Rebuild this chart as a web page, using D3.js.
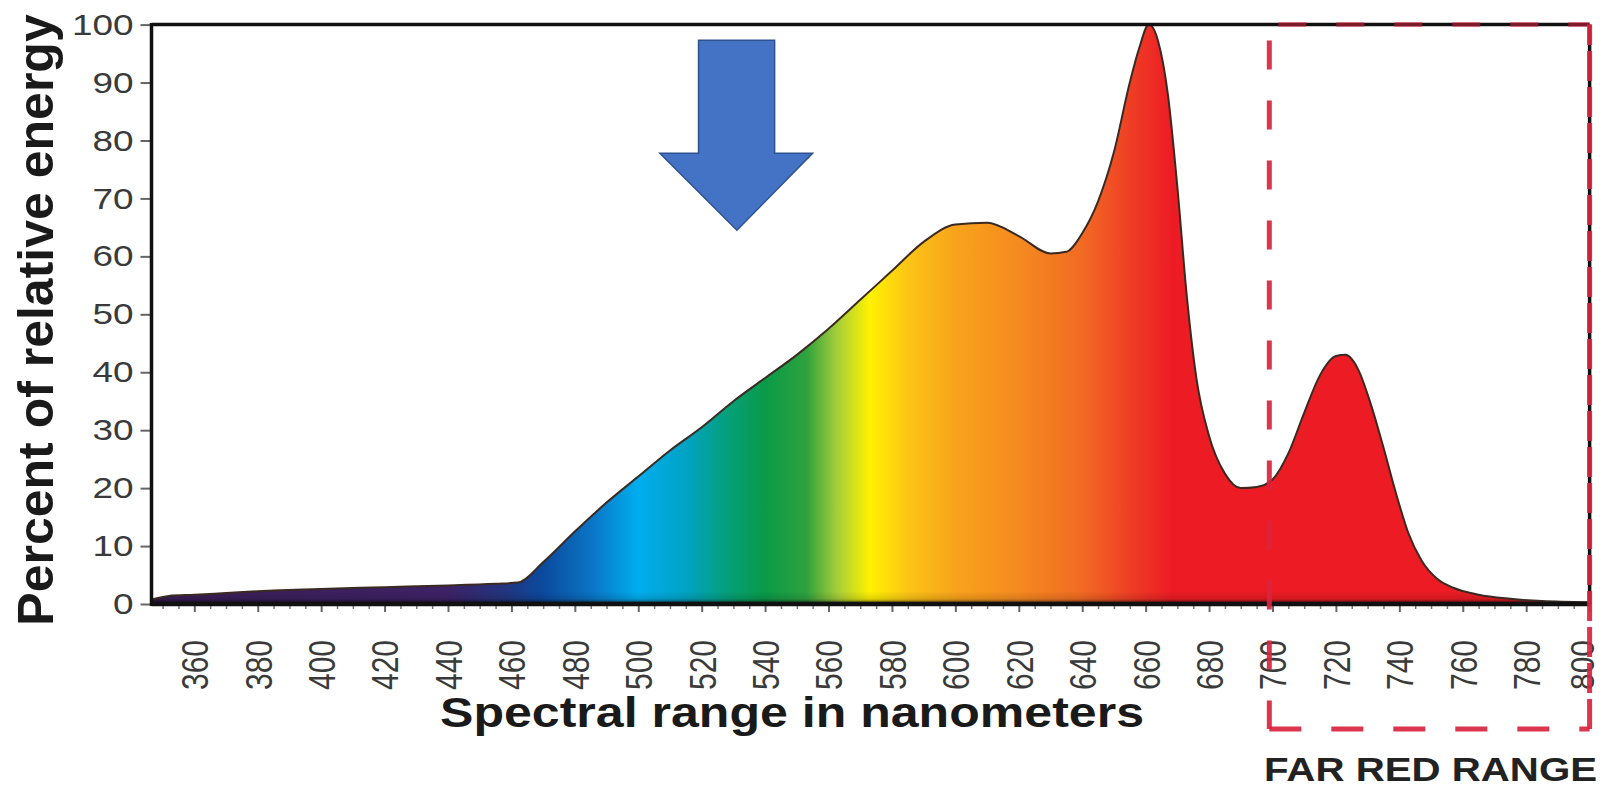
<!DOCTYPE html>
<html><head><meta charset="utf-8">
<script src="https://cdn.jsdelivr.net/npm/d3@7"></script>
<style>body{margin:0;background:#fff}svg{display:block}</style>
</head><body><svg id="c" width="1605" height="788"></svg>
<script>
// ---- data ----
const wavelengths = [346.5,352,360,370,380,400,420,440,455,462,470,480,490,500,510,520,530,540,550,560,570,580,590,600,610,620,630,635,640,645,650,655,658,661,664,667,670,673,676,680,685,690,695,700,705,710,715,720,723,727,731,735,739,743,747,752,757,765,775,785,800];
const energy      = [0.8,1.4,1.6,1.9,2.2,2.6,2.9,3.2,3.5,3.7,7.2,12.5,17.5,22,26.5,30.5,35,39,43,47.5,52.5,57.5,62.5,65.5,65.8,63.5,60.5,60.8,64,69.5,78,90,96,100,97,88,72,53,39,29,22.5,20,20.2,21.5,26,33,39.5,42.8,43,40.5,34.5,27,19,12,7.5,4.3,2.8,1.6,0.9,0.5,0.3];
const yTicks = [0,10,20,30,40,50,60,70,80,90,100];
const xTicks = [360,380,400,420,440,460,480,500,520,540,560,580,600,620,640,660,680,700,720,740,760,780,800];
const xMinorTicks = d3.range(350, 800, 5).filter(v => v % 20 !== 0);
const farRedRange = [699, 800];
const farRedLabel = "FAR RED RANGE";
const xTitle = "Spectral range in nanometers";
const yTitle = "Percent of relative energy";
// arrow annotation in data units
const arrowShaft = [519, 543], arrowHead = [506.8, 555], arrowTip = [531.1, 64.5], arrowTop = 97.3, arrowShoulder = 77.8;
// spectrum colours by wavelength
const spectrumStops = [
  [346.5,"#3a1d55"],[440,"#3d2266"],[458,"#22357f"],[470,"#0b4a9e"],[485,"#0a74c4"],[500,"#00aeef"],
  [515,"#00a3c4"],[528,"#05a07a"],[540,"#0a9a48"],[553,"#2ea23e"],[563,"#a8cf38"],[573,"#fff200"],
  [585,"#fcc515"],[600,"#f9a31b"],[620,"#f58a1f"],[640,"#f26a23"],[655,"#ef3e24"],[668,"#ed1c24"],[800,"#ed1c24"]
];

// ---- scales ----
const svg = d3.select("#c");
const x = d3.scaleLinear().domain([346.5, 800]).range([151.5, 1589.6]);
const y = d3.scaleLinear().domain([0, 100]).range([604, 24.6]);
const pts = wavelengths.map((w,i)=>({w, e: energy[i]}));

const defs = svg.append("defs");
const grad = defs.append("linearGradient").attr("id","spec").attr("gradientUnits","userSpaceOnUse")
  .attr("x1", x(346.5)).attr("x2", x(800)).attr("y1",0).attr("y2",0);
spectrumStops.forEach(([w,c]) => grad.append("stop").attr("offset", (w-346.5)/(800-346.5)).attr("stop-color", c));
const vgrad = defs.append("linearGradient").attr("id","shade").attr("x1",0).attr("x2",0).attr("y1",0).attr("y2",1);
vgrad.append("stop").attr("offset",0).attr("stop-color","#000").attr("stop-opacity",0);
vgrad.append("stop").attr("offset",0.6).attr("stop-color","#000").attr("stop-opacity",0.12);
vgrad.append("stop").attr("offset",1).attr("stop-color","#000").attr("stop-opacity",0.7);

const area = d3.area().x(d=>x(d.w)).y0(y(0)).y1(d=>y(d.e)).curve(d3.curveMonotoneX);
const line = d3.line().x(d=>x(d.w)).y(d=>y(d.e)).curve(d3.curveMonotoneX);
defs.append("clipPath").attr("id","areaClip").append("path").attr("d", area(pts));

svg.append("path").attr("d", area(pts)).attr("fill","url(#spec)");
svg.append("rect").attr("x", x(346.5)).attr("width", x(800)-x(346.5)).attr("y", y(2.2)).attr("height", y(0)-y(2.2))
  .attr("fill","url(#shade)").attr("clip-path","url(#areaClip)");
svg.append("path").attr("d", line(pts)).attr("fill","none").attr("stroke","#3a2a22").attr("stroke-width",2);

// ---- axes ----
const font = "'Liberation Sans', Arial, sans-serif";
const gy = svg.append("g").attr("transform",`translate(${x(346.5)},0)`)
  .call(d3.axisLeft(y).tickValues(yTicks).tickSize(11).tickPadding(7));
gy.select(".domain").remove();
gy.selectAll(".tick line").attr("stroke","#666").attr("stroke-width",2);
gy.selectAll(".tick text").attr("font-family",font).attr("font-size",30).attr("fill","#3a3a3a")
  .each(function(){ const w=this.getComputedTextLength(); d3.select(this).attr("textLength", w*1.23).attr("lengthAdjust","spacingAndGlyphs"); });

const gxm = svg.append("g").attr("transform",`translate(0,${y(0)})`)
  .call(d3.axisBottom(x).tickValues(xMinorTicks).tickSize(5).tickFormat(""));
gxm.select(".domain").remove();
gxm.selectAll(".tick line").attr("stroke","#777").attr("stroke-width",1.5);
const gx = svg.append("g").attr("transform",`translate(0,${y(0)})`)
  .call(d3.axisBottom(x).tickValues(xTicks).tickSize(8).tickPadding(0));
gx.select(".domain").remove();
gx.selectAll(".tick line").attr("stroke","#666").attr("stroke-width",2);
gx.selectAll(".tick text").attr("font-family",font).attr("font-size",30).attr("fill","#3a3a3a")
  .attr("text-anchor","end").attr("x",-36).attr("y",0).attr("dy","0.36em")
  .attr("transform", d => d === 800 ? "translate(-8,0) rotate(-90) scale(1,1.1)" : "rotate(-90) scale(1,1.24)");

// frame
const frame = svg.append("g").attr("stroke","#111").attr("stroke-width",3.5).attr("fill","none");
frame.append("line").attr("x1",x(346.5)).attr("x2",x(800)).attr("y1",y(0)).attr("y2",y(0)).attr("stroke-width",4.5);
frame.append("line").attr("x1",x(346.5)).attr("x2",x(346.5)).attr("y1",y(100)-1.5).attr("y2",y(0)+2);
frame.append("line").attr("x1",x(346.5)).attr("x2",x(800)).attr("y1",y(100)).attr("y2",y(100));
frame.append("line").attr("x1",x(800)).attr("x2",x(800)).attr("y1",y(100)).attr("y2",y(0));

// far red box
const boxBottom = 729;
const fr = svg.append("g").attr("stroke","#d9243f").attr("stroke-width",5).attr("fill","none").attr("stroke-opacity",0.92);
fr.append("line").attr("x1",x(farRedRange[0])).attr("x2",x(farRedRange[0])).attr("y1",y(100)+16).attr("y2",boxBottom).attr("stroke-dasharray","29 31");
fr.append("line").attr("x1",x(farRedRange[0])).attr("x2",x(farRedRange[1])).attr("y1",boxBottom).attr("y2",boxBottom).attr("stroke-dasharray","32 30");
fr.append("line").attr("x1",x(farRedRange[1])).attr("x2",x(farRedRange[1])).attr("y1",boxBottom).attr("y2",y(100)).attr("stroke-dasharray","30 6");
fr.append("line").attr("x1",x(farRedRange[0])+9).attr("x2",x(farRedRange[1])).attr("y1",y(100)).attr("y2",y(100)).attr("stroke-dasharray","28 30").attr("stroke-opacity",0.55);

// arrow
const ap = [
  [arrowShaft[0], arrowTop],[arrowShaft[1], arrowTop],[arrowShaft[1], arrowShoulder],[arrowHead[1], arrowShoulder],
  [arrowTip[0], arrowTip[1]],[arrowHead[0], arrowShoulder],[arrowShaft[0], arrowShoulder]
];
svg.append("path").attr("d", d3.line().x(d=>x(d[0])).y(d=>y(d[1]))(ap)+"Z")
  .attr("fill","#4472c4").attr("stroke","#2f528f").attr("stroke-width",1.5);

// titles
svg.append("text").attr("transform",`translate(53,${320}) rotate(-90)`).attr("text-anchor","middle")
  .attr("font-family",font).attr("font-weight","bold").attr("font-size",50).attr("fill","#1a1a1a").text(yTitle);
svg.append("text").attr("x",440).attr("y",727).attr("font-family",font).attr("font-weight","bold")
  .attr("font-size",43).attr("fill","#1a1a1a").attr("textLength",704).attr("lengthAdjust","spacingAndGlyphs").text(xTitle);
svg.append("text").attr("x",1264).attr("y",781).attr("font-family",font).attr("font-weight","bold")
  .attr("font-size",33).attr("fill","#222").attr("textLength",333).attr("lengthAdjust","spacingAndGlyphs").text(farRedLabel);
</script></body></html>
